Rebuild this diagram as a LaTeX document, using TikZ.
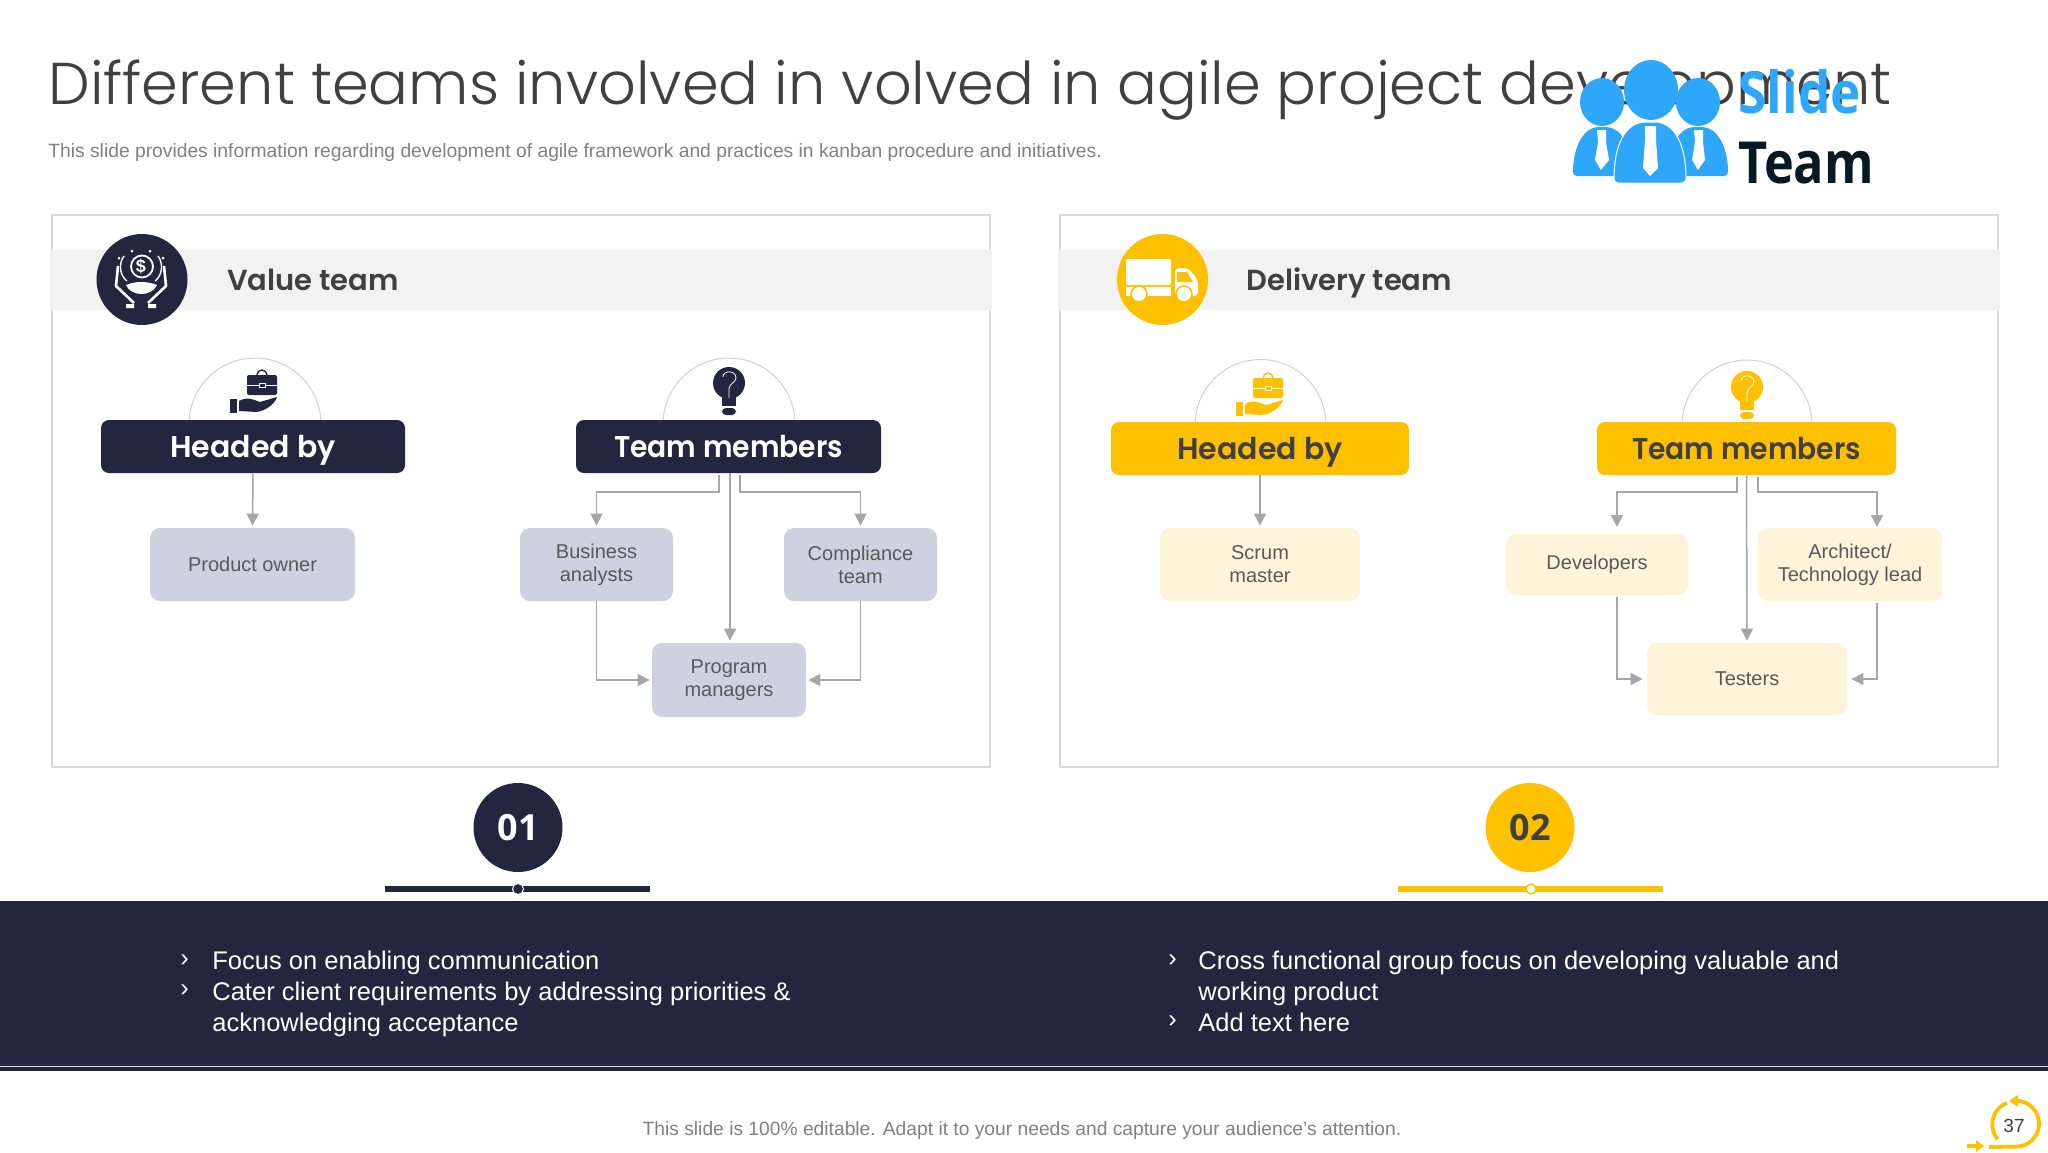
\documentclass[tikz,border=0pt]{standalone}
\usepackage{fontspec}
\setmainfont{Liberation Sans}
\newfontfamily\headfont{Poppins SemiBold}
\newfontfamily\titlefont{Poppins Light}
\newfontfamily\logofont{Open Sans}
\usetikzlibrary{arrows.meta}
\definecolor{navy}{HTML}{23263F}
\definecolor{amber}{HTML}{FFC000}
\definecolor{greyblue}{HTML}{CED2E0}
\definecolor{cream}{HTML}{FFF4DA}
\definecolor{band}{HTML}{F2F2F2}
\definecolor{linegrey}{HTML}{A6A6A6}
\definecolor{inktext}{HTML}{404040}
\definecolor{sky}{HTML}{2EA6F9}
\tikzset{
  panel/.style={draw=black!15,line width=.7pt,fill=white,minimum width=469pt,minimum height=276pt,inner sep=0pt},
  strip/.style={fill=band,minimum width=471pt,minimum height=30pt,inner sep=0pt},
  teamname/.style={text=inktext,anchor=base west,font=\headfont\fontsize{14.5}{16}\selectfont},
  badge/.style={circle,minimum size=45.5pt,inner sep=0pt},
  headbox/.style={rounded corners=4pt,minimum height=26.5pt,inner sep=0pt,text height=13pt,text depth=2.5pt,font=\headfont\fontsize{15}{17}\selectfont},
  leafbox/.style={rounded corners=5pt,inner sep=0pt,align=center,text=black!65,font=\fontsize{10}{11.5}\selectfont},
  conn/.style={draw=linegrey,line width=.75pt,shorten >=1pt,-{Triangle[length=6pt,width=6pt]}},
  arch/.style={draw=black!18,line width=.5pt},
  numdot/.style={circle,minimum size=44.5pt,inner sep=0pt,font=\logofont\bfseries\fontsize{18}{20}\selectfont},
  listitem/.style={anchor=north west,align=left,inner sep=0pt,text=white,font=\fontsize{12.75}{15.3}\selectfont},
  casehand/.pic={
    \fill[#1,rounded corners=1pt] (-15,-10) rectangle (15,10);
    \draw[#1,line width=.7pt] (-5,-10) arc[start angle=180,end angle=360,radius=5];
    \draw[white,line width=.4pt] (-15,0) -- (-3,0) (3,0) -- (15,0);
    \draw[white,line width=.4pt] (-3,-2) rectangle (3,2);
    \fill[#1] (-32,14) rectangle (-25,28);
    \fill[#1] (-23,16) .. controls (-14,11) and (-8,15) .. (-2,17) -- (15,12) .. controls (14,17) and (5,26) .. (-6,27) -- (-23,26) -- cycle;
  },
  bulb/.pic={
    \fill[#1] (0,0) circle[radius=16];
    \fill[#1] (-7,12) rectangle (7,23);
    \fill[#1,rounded corners=2pt] (-7,25) rectangle (7,32);
    \draw[white,line width=.4pt] (-6,-6) .. controls (-6,-13) and (7,-13) .. (7,-5) .. controls (7,0) and (0,0) .. (0,6) -- (0,15);
  }
}
\begin{document}
\begin{tikzpicture}[x=.5pt,y=-.5pt]
\useasboundingbox (0,0) rectangle (2048,1152);

% heading
\node[anchor=base west,inner sep=0pt,text=inktext,font=\titlefont\fontsize{29.5}{32}\selectfont] (title) at (48,104) {Different teams involved in volved in agile project development};
\node[anchor=base west,inner sep=0pt,text=black!50,font=\fontsize{9.63}{11}\selectfont] (subtitle) at (48,157) {This slide provides information regarding development of agile framework and practices in kanban procedure and initiatives.};

% logo
\fill[sky] (1602,102) ellipse[x radius=22,y radius=24];
\fill[sky] (1698,102) ellipse[x radius=22,y radius=24];
\fill[sky,rounded corners=2pt] (1573,176) .. controls (1573,145) and (1585,127) .. (1602,127) .. controls (1620,127) and (1632,145) .. (1632,176) -- cycle;
\fill[sky,rounded corners=2pt] (1669,176) .. controls (1669,145) and (1680,127) .. (1698,127) .. controls (1716,127) and (1728,145) .. (1728,176) -- cycle;
\fill[white] (1597,130) -- (1606,130) -- (1606,142) -- (1609,160) -- (1601,170) -- (1595,160) -- (1598,142) -- cycle;
\fill[white] (1694,130) -- (1703,130) -- (1703,142) -- (1705,160) -- (1698,170) -- (1692,160) -- (1695,142) -- cycle;
\fill[sky,draw=white,line width=.5pt,rounded corners=2pt] (1614,183) .. controls (1614,145) and (1625,122) .. (1650,122) .. controls (1675,122) and (1686,145) .. (1686,183) -- cycle;
\fill[sky] (1651,90) ellipse[x radius=27,y radius=30];
\fill[white] (1645,126) -- (1656,126) -- (1656,140) -- (1658,168) -- (1650,176) -- (1643,168) -- (1645,140) -- cycle;
\node[anchor=base west,inner sep=0pt,text=sky,font=\logofont\bfseries\fontsize{29}{31}\selectfont] (slide) at (1738,113) {\scalebox{.885}[1]{Slide}};
\node[anchor=base west,inner sep=0pt,text=black!85!sky,font=\logofont\bfseries\fontsize{29}{31}\selectfont] (brand) at (1738,183) {\scalebox{.87}[1]{Team}};

% left and right panels
\node[panel] (p1) at (521,491) {};
\node[panel] (p2) at (1529,491) {};
\node[strip] (s1) at (521,279.5) {};
\node[strip] (s2) at (1529,279.5) {};
\node[badge,fill=navy] (b1) at (142,279.5) {};
\node[badge,fill=amber] (b2) at (1162.5,279.5) {};
\node[teamname] (t1) at (220,290) {Value team};
\node[teamname] (t2) at (1239.5,290) {Delivery team};

% money in hands
\draw[white,line width=.9pt] (b1.center) ++(0,-13) circle[radius=11];
\node[inner sep=0pt,text=white,font=\bfseries\fontsize{9}{9}\selectfont] (dollar) at (141,266) {\$};
\draw[white,line width=.7pt] (124,256) .. controls (118,264) and (120,276) .. (127,281);
\draw[white,line width=.7pt] (158,256) .. controls (164,264) and (162,276) .. (155,281);
\draw[white,line width=1.3pt,line join=round] (118,266) -- (116,286) -- (134,303);
\draw[white,line width=1.3pt,line join=round] (164,266) -- (166,286) -- (148,303);
\fill[white] (126,285) .. controls (135,281) and (147,281) .. (157,285) .. controls (152,297) and (131,297) .. (126,285) -- cycle;
\fill[white] (126,304) rectangle (134,308) (148,304) rectangle (156,308);
\fill[white] (119,258) circle[radius=1.5] (132,251) circle[radius=1.5] (150,251) circle[radius=1.5] (163,258) circle[radius=1.5];

% truck
\fill[white,rounded corners=1pt] (1126,259) rectangle (1171,285);
\fill[white] (1126,287) rectangle (1171,296);
\fill[white,rounded corners=2pt] (1175,268) -- (1188,268) -- (1198,280) -- (1198,296) -- (1175,296) -- cycle;
\fill[amber] (1177,272) -- (1187,272) -- (1193,282) -- (1177,282) -- cycle;
\fill[white,draw=amber,line width=.8pt] (1139,294) circle[radius=8];
\fill[white,draw=amber,line width=.8pt] (1184,294) circle[radius=8];

% value team
\draw[arch] (189,424) arc[start angle=180,end angle=360,radius=66];
\draw[arch] (663,424) arc[start angle=180,end angle=360,radius=66];
\pic at (262,385) {casehand=navy};
\pic at (729,383) {bulb=navy};
\node[headbox,fill=navy,text=white,minimum width=152pt] (hb1) at (253,446.5) {Headed by};
\node[headbox,fill=navy,text=white,minimum width=152.5pt] (tm1) at (728.5,446.5) {\scalebox{.94}[1]{Team members}};
\node[leafbox,fill=greyblue,minimum width=102.5pt,minimum height=36.5pt] (po) at (252.5,564.5) {Product owner};
\node[leafbox,fill=greyblue,minimum width=76.5pt,minimum height=36.5pt] (ba) at (596.5,564.5) {Business\\analysts};
\node[leafbox,fill=greyblue,minimum width=76.5pt,minimum height=36.5pt] (ct) at (860.5,564.5) {Compliance\\team};
\node[leafbox,fill=greyblue,minimum width=77pt,minimum height=37pt] (pm) at (729,680) {Program\\managers};
\coordinate (tm1l) at (719,475);
\coordinate (tm1m) at (730,473);
\coordinate (tm1r) at (740,475);

\draw[conn] (hb1.south) -- (po.north);
\draw[conn] (tm1l) -- ++(0,17) -| (ba.north);
\draw[conn] (tm1m) -- (tm1m |- pm.north);
\draw[conn] (tm1r) -- ++(0,17) -| (ct.north);
\draw[conn] (ba.south) |- (pm.west);
\draw[conn] (ct.south) |- (pm.east);

% delivery team
\draw[arch] (1195,425) arc[start angle=180,end angle=360,radius=65.5];
\draw[arch] (1682,425) arc[start angle=180,end angle=360,radius=65];
\pic at (1268,388) {casehand=amber};
\pic at (1747,387) {bulb=amber};
\node[headbox,fill=amber,text=inktext,minimum width=149pt] (hb2) at (1260,448.5) {Headed by};
\node[headbox,fill=amber,text=inktext,minimum width=149.5pt] (tm2) at (1746.5,448.5) {\scalebox{.94}[1]{Team members}};
\node[leafbox,fill=cream,minimum width=100pt,minimum height=36.5pt] (sm) at (1260,564.5) {Scrum\\master};
\node[leafbox,fill=cream,minimum width=91pt,minimum height=30.5pt] (dev) at (1597,564.5) {Developers};
\node[leafbox,fill=cream,minimum width=92pt,minimum height=36.5pt] (arc) at (1850,564.5) {Architect/\\Technology lead};
\node[leafbox,fill=cream,minimum width=100pt,minimum height=36pt] (tst) at (1747,679) {Testers};
\coordinate (tm2l) at (1737,477);
\coordinate (tm2r) at (1758,477);
\coordinate (devin) at (1617,529);
\coordinate (devout) at (1617,597);
\coordinate (arcin) at (1877,529);
\coordinate (arcout) at (1877,603);

\draw[conn] (hb2.south) -- (sm.north);
\draw[conn] (tm2l) -- ++(0,15) -| (devin);
\draw[conn] (tm2.south) -- (tst.north);
\draw[conn] (tm2r) -- ++(0,15) -| (arcin);
\draw[conn,shorten >=2pt] (devout) |- (tst.west);
\draw[conn,shorten >=2pt] (arcout) |- (tst.east);

% numbers
\node[numdot,fill=navy,text=white] (n1) at (518,827.5) {01};
\node[numdot,fill=amber,text=inktext] (n2) at (1530,827.5) {02};
\fill[navy] (385,886) rectangle (650,892);
\fill[amber] (1398,886) rectangle (1663,892);
\fill[navy,draw=white,line width=.5pt] (518,889) circle[radius=5.5];
\fill[white,draw=amber,line width=.7pt] (1531,889) circle[radius=5];

% bottom band
\fill[navy] (0,901) rectangle (2048,1071);
\draw[white!85!navy,line width=.7pt] (0,1066.5) -- (2048,1066.5);
\node[listitem] (m1) at (180,954) {›\\›};
\node[listitem] (l1) at (212,951) {Focus on enabling communication\\Cater client requirements by addressing priorities \&\\acknowledging acceptance};
\node[listitem] (m2) at (1168,954) {›\\\mbox{}\\›};
\node[listitem] (l2) at (1198,951) {Cross functional group focus on developing valuable and\\working product\\Add text here};

% footer
\node[inner sep=0pt,text=black!50,font=\fontsize{9.62}{12}\selectfont] (foot) at (1022,1131) {This slide is 100\% editable. Adapt it to your needs and capture your audience's attention.};
\node[inner sep=0pt,text=inktext,font=\fontsize{9.5}{11}\selectfont] (page) at (2014,1126) {37};
\draw[amber,line width=1.9pt] (2007,1103) arc[start angle=249,end angle=140,radius=23];
\draw[amber,line width=1.9pt] (2012,1101) arc[start angle=260,end angle=450,radius=23] -- (1989,1147);
\fill[amber] (2009,1101) -- (2018,1095) -- (2018,1107) -- cycle;
\draw[amber,line width=1.9pt] (1967,1146) -- (1978,1146);
\fill[amber] (1984,1146) -- (1976,1140) -- (1976,1152) -- cycle;
\end{tikzpicture}
\end{document}
